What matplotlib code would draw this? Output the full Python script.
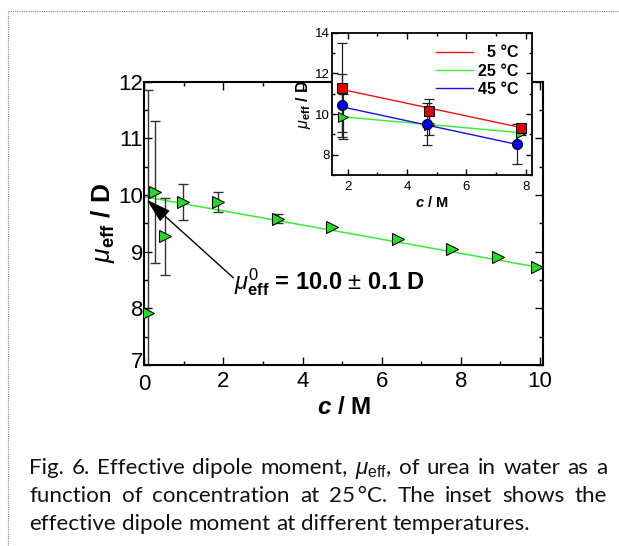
import numpy as np
import matplotlib
matplotlib.use('Agg')
import matplotlib.pyplot as plt
from matplotlib.lines import Line2D
from matplotlib.transforms import ScaledTranslation

plt.rcParams['font.family'] = ['Liberation Sans', 'DejaVu Sans']
plt.rcParams['mathtext.fontset'] = 'custom'
plt.rcParams['mathtext.rm'] = 'Liberation Sans'
plt.rcParams['mathtext.it'] = 'Liberation Sans:italic'
plt.rcParams['mathtext.bf'] = 'Liberation Sans:bold'
plt.rcParams['mathtext.bfit'] = 'Liberation Sans:italic:bold'

# ---------------- main data (25 °C) ----------------
conc = [0.10, 0.26, 0.52, 0.99, 1.87, 3.39, 4.75, 6.42, 7.79, 8.95, 9.92]
mu_eff = [7.91, 10.05, 9.27, 9.875, 9.875, 9.58, 9.44, 9.23, 9.04, 8.90, 8.73]
mu_err = [3.95, 1.25, 0.68, 0.32, 0.17, 0.08, 0.0, 0.0, 0.0, 0.0, 0.0]
fit_coef = [-0.125, 9.97]          # slope, intercept
fit_range = [0.0, 10.08]

# ---------------- inset data ----------------
inset_labels = ['  5 °C', '25 °C', '45 °C']
conc_5C = [1.80, 4.74, 7.84]
mu_5C = [11.30, 10.15, 9.33]
err_5C = [2.20, 0.60, 0.15]
conc_25C = [1.85, 4.75, 7.84]
mu_25C = [9.87, 9.48, 9.07]
err_25C = [1.12, 0.50, 0.10]
conc_45C = [1.80, 4.67, 7.70]
mu_45C = [10.43, 9.49, 8.51]
err_45C = [1.55, 1.03, 0.98]
fit_5C = [-0.311, 11.77]
fit_25C = [-0.130, 10.10]
fit_45C = [-0.3136, 10.92]
fitrange_5C = [1.80, 7.84]
fitrange_25C = [1.85, 7.84]
fitrange_45C = [1.80, 7.70]

annot_text = r"$\mu^{0}_{\mathbf{eff}}$ = 10.0 $\pm$ 0.1 D"
caption_lines = [
    ["Fig.", "6.", "Effective", "dipole", "moment,", r"$\mu_{\mathrm{eff}}$,", "of", "urea", "in", "water", "as", "a"],
    ["function", "of", "concentration", "at", "25\u2009°C.", "The", "inset", "shows", "the"],
    ["effective", "dipole", "moment", "at", "different", "temperatures."],
]

W, H = 619, 546
fig = plt.figure(figsize=(W / 100, H / 100), dpi=100)
fig.patch.set_facecolor('white')

def fx(px):
    return px / W

def fy(py):
    return 1 - py / H

GREEN = '#22dd22'
LGREEN = '#33ee33'
RED = '#ee1111'
BLUE = '#1111ee'

# ---------------- main axes ----------------
ax = fig.add_axes([fx(144.3), fy(365), fx(543) - fx(144.3), fy(81.7) - fy(365)])
c = np.array(conc)
m = np.array(mu_eff)
e = np.array(mu_err)
mask = e > 0
ax.errorbar(c[mask], m[mask], yerr=e[mask], fmt='none', ecolor='#333333',
            elinewidth=1.0, capsize=3.5, capthick=1.0, zorder=2)
xf = np.array(fit_range)
ax.plot(xf, np.polyval(fit_coef, xf), color=LGREEN, lw=1.1, zorder=1)
ax.plot(c, m, linestyle='none', marker='>', ms=9, mfc=GREEN, mec='black', mew=0.8, zorder=3)

ax.set_xlim(0, 10.08)
ax.set_ylim(7, 12)
ax.set_xticks([0, 2, 4, 6, 8, 10])
ax.set_xticks(np.arange(1, 10.5, 2), minor=True)
ax.set_yticks([7, 8, 9, 10, 11, 12])
ax.set_yticks(np.arange(7.5, 12, 1), minor=True)
ax.tick_params(which='both', direction='in', top=True, right=True, width=1.0)
ax.tick_params(which='major', length=6)
ax.tick_params(which='minor', length=3)
ax.tick_params(axis='x', labelsize=16, pad=4)
ax.tick_params(axis='y', labelsize=16, pad=1.0)
for s in ax.spines.values():
    s.set_linewidth(1.5)
ax.set_xlabel(r"$\mathbfit{c}$ / M", fontsize=17.5, fontweight='bold', labelpad=1)
ax.set_ylabel(r"$\mu_{\mathbf{eff}}$ / D", fontsize=19, fontweight='bold', labelpad=1)

ax.annotate("", xy=(0.06, 9.92), xytext=(2.25, 8.54),
            arrowprops=dict(arrowstyle='-|>,head_length=1.1,head_width=0.32',
                            mutation_scale=14, color='black', lw=1.0,
                            shrinkA=0, shrinkB=0),
            zorder=4)
ax.text(2.28, 8.47, annot_text, fontsize=17, fontweight='bold', va='center', ha='left', zorder=4)

# ---------------- inset ----------------
axi = fig.add_axes([fx(332.3), fy(175), fx(531.7) - fx(332.3), fy(32.7) - fy(175)], zorder=5)
axi.set_facecolor('white')
series = [
    (conc_25C, mu_25C, err_25C, fit_25C, fitrange_25C, LGREEN, GREEN, '>', 7.5, inset_labels[1]),
    (conc_5C, mu_5C, err_5C, fit_5C, fitrange_5C, RED, '#dd0000', 's', 6.8, inset_labels[0]),
    (conc_45C, mu_45C, err_45C, fit_45C, fitrange_45C, BLUE, '#0000ee', 'o', 7.3, inset_labels[2]),
]
handles = {}
for cx, my, ey, coef, rng, lc, mc, mk, ms, lab in series:
    axi.errorbar(cx, my, yerr=ey, fmt='none', ecolor='#222222', elinewidth=0.9,
                 capsize=3.5, capthick=0.9, zorder=2)
    xr = np.array(rng)
    ln, = axi.plot(xr, np.polyval(coef, xr), color=lc, lw=1.0, zorder=1, label=lab)
    handles[lab] = ln
    axi.plot(cx, my, linestyle='none', marker=mk, ms=ms, mfc=mc, mec='black', mew=0.7, zorder=3)

axi.set_xlim(1.48, 8.2)
axi.set_ylim(7, 14)
axi.set_xticks([2, 4, 6, 8])
axi.set_xticks([3, 5, 7], minor=True)
axi.set_yticks([8, 10, 12, 14])
axi.set_yticks([7, 9, 11, 13], minor=True)
axi.tick_params(which='both', direction='in', top=True, right=True, width=1.0, labelsize=9.5)
axi.tick_params(which='major', length=4.5)
axi.tick_params(which='minor', length=2.5)
axi.tick_params(axis='x', pad=4.5)
axi.tick_params(axis='y', pad=2)
for s in axi.spines.values():
    s.set_linewidth(1.3)
axi.set_xlabel(r"$\mathbfit{c}$ / M", fontsize=10.5, fontweight='bold', labelpad=1)
axi.set_ylabel(r"$\mu_{\mathbf{eff}}$ / D", fontsize=11.5, fontweight='bold', labelpad=1)
leg = axi.legend([handles[l] for l in inset_labels], inset_labels,
                 loc='upper right', frameon=False,
                 prop={'weight': 'bold', 'size': 11.5},
                 handlelength=2.3, handletextpad=0.35, labelspacing=0.2,
                 borderaxespad=0.4)

# ---------------- dotted frame ----------------
fig.add_artist(Line2D([fx(8), fx(618)], [fy(10.5), fy(10.5)], color='#888888',
                      lw=0.8, linestyle=(0, (1, 1))))
fig.add_artist(Line2D([fx(7.5), fx(7.5)], [fy(10.5), fy(546)], color='#888888',
                      lw=0.8, linestyle=(0, (1, 1))))

# ---------------- keep corner tick labels ("7" and "0") apart ----------------
fig.canvas.draw()
renderer = fig.canvas.get_renderer()
ylab7 = ax.yaxis.get_major_ticks()[0].label1
xlab0 = ax.xaxis.get_major_ticks()[0].label1
b7 = ylab7.get_window_extent(renderer)
b0 = xlab0.get_window_extent(renderer)
v = b0.y1 - b7.y0 + 1.0   # pixels of vertical overlap
if v > 0 and b7.x1 > b0.x0:
    up = 0.65 * v / 100.0
    down = 0.35 * v / 100.0
    ylab7.set_transform(ylab7.get_transform() + ScaledTranslation(0, up, fig.dpi_scale_trans))
    xlab0.set_transform(xlab0.get_transform() + ScaledTranslation(0, -down, fig.dpi_scale_trans))

# ---------------- caption (justified) ----------------
cap_family = ['Lato', 'DejaVu Sans']
x0, x1 = 29.3, 607.0
baselines = [474.0, 502.0, 530.0]
target_last = 531.5 - x0

probe = fig.text(0, 0, " ".join(caption_lines[2]), fontsize=14, family=cap_family)
wprobe = probe.get_window_extent(renderer).width
probe.remove()
cap_size = 14 * target_last / wprobe

for li, words in enumerate(caption_lines):
    texts = [fig.text(0, fy(baselines[li]), w, fontsize=cap_size, family=cap_family,
                      va='baseline', ha='left', color='#111111') for w in words]
    widths = [t.get_window_extent(renderer).width for t in texts]
    if li < 2:
        gap = (x1 - x0 - sum(widths)) / (len(words) - 1)
    else:
        sp = fig.text(0, 0, "a a", fontsize=cap_size, family=cap_family)
        sa = fig.text(0, 0, "aa", fontsize=cap_size, family=cap_family)
        gap = sp.get_window_extent(renderer).width - sa.get_window_extent(renderer).width
        sp.remove(); sa.remove()
    xpos = x0
    for t, w in zip(texts, widths):
        t.set_x(fx(xpos))
        xpos += w + gap

fig.savefig('out.png', dpi=100, facecolor='white')
